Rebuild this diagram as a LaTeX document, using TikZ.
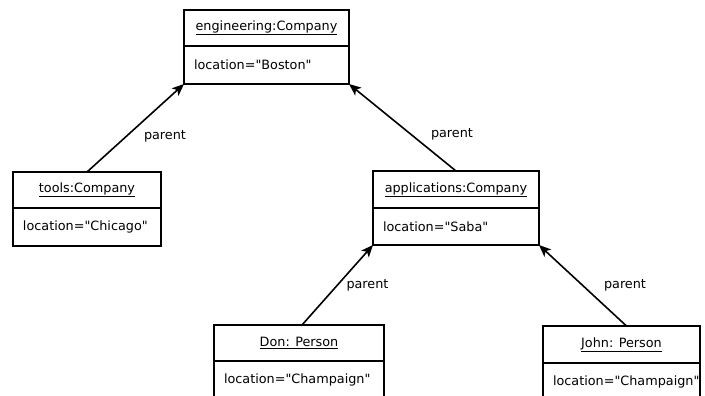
\documentclass[tikz,border=0pt]{standalone}
\usepackage{fontspec}
\setmainfont{DejaVu Sans}[Ligatures=TeXOff]
\usetikzlibrary{arrows.meta}
\begin{document}
\begin{tikzpicture}[x=1pt,y=-1pt,
  every node/.style={font=\fontsize{12.8}{15}\selectfont},
  objhead/.style={draw, line width=1.7pt, minimum height=36pt, inner sep=0pt, outer sep=0pt, anchor=north},
  objattr/.style={draw, line width=1.7pt, minimum height=38pt, inner xsep=10pt, inner ysep=0pt, outer sep=0pt, align=left, anchor=north},
  link/.style={line width=1.6pt, -{Stealth[length=12pt,width=10pt,inset=3pt]}},
  role/.style={inner sep=0pt}
]
\useasboundingbox (0,0) rectangle (705,396);

% engineering company
\node[objhead, minimum width=165pt] (engH) at (266.5,10) {\underline{engineering:Company}};
\node[objattr, text width=145pt, minimum width=165pt] (engA) at (engH.south) {location="Boston"};

% tools company
\node[objhead, minimum width=148pt] (toolsH) at (87,172) {\underline{tools:Company}};
\node[objattr, text width=128pt, minimum width=148pt] (toolsA) at (toolsH.south) {location="Chicago"};

% applications company
\node[objhead, minimum width=166pt, minimum height=37pt] (appsH) at (456,171) {\underline{applications:Company}};
\node[objattr, text width=146pt, minimum width=166pt, minimum height=37pt] (appsA) at (appsH.south) {location="Saba"};

% Don
\node[objhead, minimum width=170pt] (donH) at (299,325) {\underline{Don: Person}};
\node[objattr, text width=150pt, minimum width=170pt] (donA) at (donH.south) {location="Champaign"};

% John
\node[objhead, minimum width=157pt, minimum height=37pt] (johnH) at (621.5,326) {\underline{John: Person}};
\node[objattr, text width=137pt, minimum width=157pt] (johnA) at (johnH.south) {location="Champaign"};

% parent links
\draw[link] (toolsH.north) -- (engA.south west);
\draw[link] (appsH.north) -- (engA.south east);
\draw[link] ([xshift=3pt]donH.north) -- (appsA.south west);
\draw[link] ([xshift=5pt]johnH.north) -- (appsA.south east);

\node[role] (p1) at (165,136) {parent};
\node[role] (p2) at (452,134) {parent};
\node[role] (p3) at (367.5,285.5) {parent};
\node[role] (p4) at (625,285.5) {parent};
\end{tikzpicture}
\end{document}
